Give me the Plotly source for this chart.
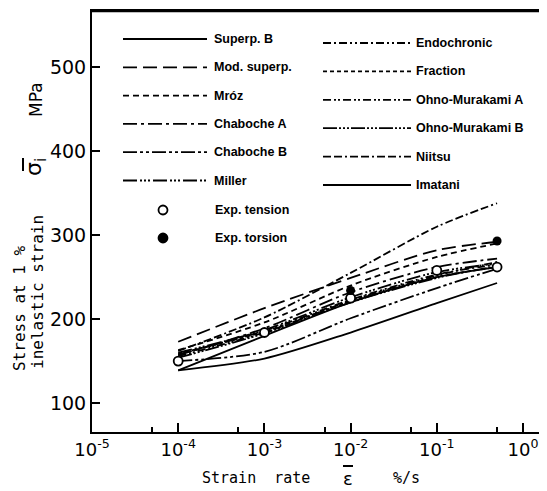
import plotly.graph_objects as go

# ---------------- data ----------------
strain_rate = [1e-4, 1e-3, 1e-2, 1e-1, 0.5]

model_names = ["Superp. B", "Mod. superp.", "Mróz", "Chaboche A", "Chaboche B", "Miller",
               "Endochronic", "Fraction", "Ohno-Murakami A", "Ohno-Murakami B", "Niitsu", "Imatani"]

superp_b     = [139, 153, 184, 219, 243]
mod_superp   = [173, 213, 249, 282, 292]
mroz         = [163, 196, 240, 274, 290]
chaboche_a   = [157, 189, 232, 262, 272]
chaboche_b   = [150, 161, 201, 237, 260]
miller       = [160, 187, 226, 256, 266]
endochronic  = [158, 186, 223, 253, 265]
fraction     = [159, 185, 221, 250, 262]
ohno_a       = [156, 184, 222, 252, 268]
ohno_b       = [154, 183, 220, 249, 263]
niitsu       = [162, 202, 255, 310, 338]
imatani      = [139, 180, 220, 250, 262]

model_values = [superp_b, mod_superp, mroz, chaboche_a, chaboche_b, miller,
                endochronic, fraction, ohno_a, ohno_b, niitsu, imatani]

exp_tension_x = [1e-4, 1e-3, 1e-2, 1e-1, 0.5]
exp_tension_y = [150, 184, 225, 258, 262]
exp_torsion_x = [1e-2, 0.5]
exp_torsion_y = [234, 293]

x_tickvals = [1e-5, 1e-4, 1e-3, 1e-2, 1e-1, 1e0]
x_ticktext = ["10<sup>-5</sup>", "10<sup>-4</sup>", "10<sup>-3</sup>",
              "10<sup>-2</sup>", "10<sup>-1</sup>", "10<sup>0</sup>"]
x_minor = [5e-5, 5e-4, 5e-3, 5e-2, 5e-1]
y_tickvals = [100, 200, 300, 400, 500]

# ---------------- styles ----------------
dashes = ["solid", "14px,6px", "6px,4px", "14px,4px,3px,4px", "14px,3px,3px,3px,3px,3px",
          "14px,3px,2px,2px,2px,2px,2px,3px",
          "8px,3px,2px,3px,8px,3px,2px,3px,2px,3px", "4px,3px",
          "8px,3px,2px,2px,2px,3px", "14px,2px,2px,2px,2px,2px,2px,2px",
          "8px,3px,8px,3px,2px,3px", "solid"]

OFF = 8                     # page body margin
L, R, T, B = 92, 545, 11, 432   # plot area in window pixels
W, H = 547 - OFF, 491 - OFF


def px(xp):
    return (xp - L) / (R - L)


def py(yp):
    return (B - yp) / (B - T)


fig = go.Figure()
for name, vals, d in zip(model_names, model_values, dashes):
    fig.add_trace(go.Scatter(x=strain_rate, y=vals, mode="lines", name=name,
                             line=dict(color="black", width=1.8, dash=d, shape="spline", smoothing=0.8),
                             showlegend=False))

fig.add_trace(go.Scatter(x=exp_tension_x, y=exp_tension_y, mode="markers", name="Exp. tension",
                         marker=dict(symbol="circle", size=9, color="white",
                                     line=dict(color="black", width=1.8)), showlegend=False))
fig.add_trace(go.Scatter(x=exp_torsion_x, y=exp_torsion_y, mode="markers", name="Exp. torsion",
                         marker=dict(symbol="circle", size=9, color="black"), showlegend=False))

# ---------------- legend (drawn) ----------------
shapes = []
annotations = []
legfont = dict(family="Liberation Sans", size=12.5, color="black")
for i in range(6):
    yl = 39 + 28.3 * i
    shapes.append(dict(type="line", xref="paper", yref="paper", x0=px(123), x1=px(207),
                       y0=py(yl), y1=py(yl), line=dict(color="black", width=1.8, dash=dashes[i])))
    annotations.append(dict(xref="paper", yref="paper", x=px(212), y=py(yl), text="<b>%s</b>" % model_names[i],
                            showarrow=False, xanchor="left", yanchor="middle", font=legfont))
    yr = 43 + 28.4 * i
    shapes.append(dict(type="line", xref="paper", yref="paper", x0=px(323), x1=px(411),
                       y0=py(yr), y1=py(yr), line=dict(color="black", width=1.8, dash=dashes[6 + i])))
    annotations.append(dict(xref="paper", yref="paper", x=px(414), y=py(yr), text="<b>%s</b>" % model_names[6 + i],
                            showarrow=False, xanchor="left", yanchor="middle", font=legfont))

for k, (label, fill) in enumerate([("Exp. tension", "white"), ("Exp. torsion", "black")]):
    yl = 210 + 28 * k
    shapes.append(dict(type="circle", xref="paper", yref="paper", xsizemode="pixel", ysizemode="pixel",
                       xanchor=px(163), yanchor=py(yl), x0=-4.5, x1=4.5, y0=-4.5, y1=4.5,
                       fillcolor=fill, line=dict(color="black", width=1.8)))
    annotations.append(dict(xref="paper", yref="paper", x=px(213), y=py(yl), text="<b>%s</b>" % label,
                            showarrow=False, xanchor="left", yanchor="middle", font=legfont))

# ---------------- axis titles ----------------
mono = dict(family="DejaVu Sans Mono", size=16, color="black")
monox = dict(family="DejaVu Sans Mono", size=15, color="black")
sans = dict(family="DejaVu Sans", size=17, color="black")


def ann(x, y, text, font, angle=0, xa="center"):
    return dict(xref="paper", yref="paper", x=px(x), y=py(y), text=text, textangle=angle,
                showarrow=False, xanchor=xa, yanchor="middle", font=font)


annotations += [
    ann(19, 308, "Stress at 1 %", mono, -90),
    ann(37, 292, "inelastic strain", mono, -90),
    ann(35, 167, "σ<sub>i</sub>", dict(family="DejaVu Sans", size=22, color="black"), -90),
    ann(36, 100, "MPa", sans, -90),
    ann(200, 478, "Strain  rate", monox, 0, "left"),
    ann(348, 479, "ε", dict(family="DejaVu Sans", size=18, color="black")),
    ann(406, 478, "%/s", monox),
]
# overbars for sigma and epsilon
shapes.append(dict(type="line", xref="paper", yref="paper", x0=px(23), x1=px(23),
                   y0=py(158), y1=py(171), line=dict(color="black", width=2)))
shapes.append(dict(type="line", xref="paper", yref="paper", x0=px(343), x1=px(353),
                   y0=py(466), y1=py(466), line=dict(color="black", width=2)))
# top frame line
shapes.append(dict(type="line", xref="paper", yref="paper", x0=0, x1=1, y0=1, y1=1,
                   line=dict(color="black", width=2.5)))

fig.update_layout(
    width=W, height=H,
    margin=dict(l=L - OFF, r=(W + OFF) - R, t=T - OFF, b=(H + OFF) - B),
    paper_bgcolor="white", plot_bgcolor="white",
    shapes=shapes, annotations=annotations,
    showlegend=False,
)

fig.update_xaxes(type="log", range=[-5, 0.255], tickvals=x_tickvals, ticktext=x_ticktext,
                 showgrid=False, zeroline=False, showline=True, linecolor="black", linewidth=2,
                 mirror=True, ticks="inside", ticklen=9, tickwidth=1.8, tickcolor="black",
                 tickfont=dict(family="DejaVu Sans", size=18, color="black"),
                 minor=dict(tickvals=x_minor, ticks="inside", ticklen=5, tickwidth=1.5,
                            tickcolor="black", showgrid=False))
fig.update_yaxes(range=[65.5, 567], tickvals=y_tickvals, showgrid=False, zeroline=False,
                 showline=True, linecolor="black", linewidth=2, mirror=False,
                 ticks="inside", ticklen=8, tickwidth=1.8, tickcolor="black",
                 tickfont=dict(family="DejaVu Sans", size=19, color="black"))

fig.write_html("out.html")
